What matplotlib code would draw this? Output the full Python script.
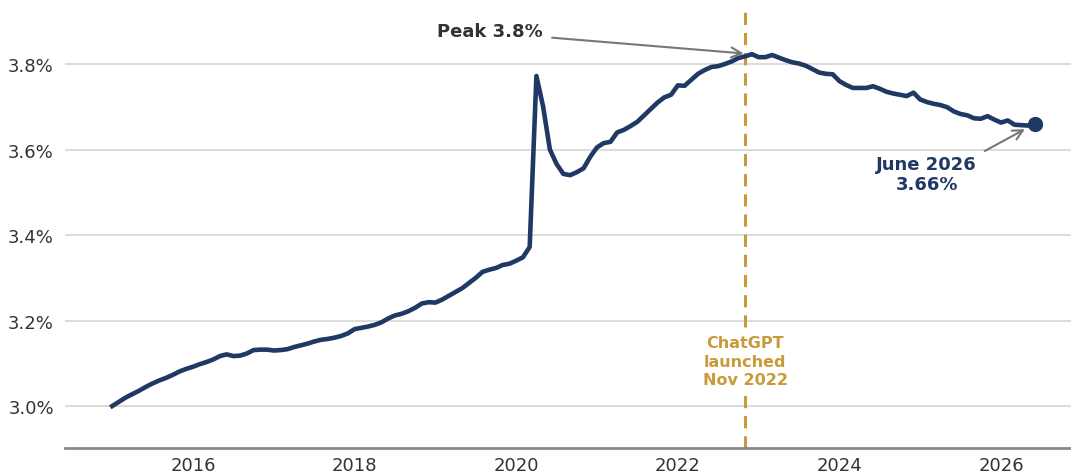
import numpy as np
import pandas as pd
import matplotlib
matplotlib.use("Agg")
import matplotlib.pyplot as plt

# Monthly series, January 2015 through June 2026 (percent)
start_month = "2015-01"
values_2015 = [3.000, 3.010, 3.020, 3.028, 3.036, 3.045, 3.053, 3.060, 3.066, 3.073, 3.081, 3.087]
values_2016 = [3.092, 3.098, 3.103, 3.109, 3.117, 3.121, 3.117, 3.118, 3.123, 3.131, 3.132, 3.132]
values_2017 = [3.130, 3.131, 3.133, 3.138, 3.142, 3.146, 3.151, 3.155, 3.157, 3.160, 3.164, 3.170]
values_2018 = [3.180, 3.183, 3.186, 3.190, 3.196, 3.205, 3.212, 3.216, 3.222, 3.230, 3.240, 3.243]
values_2019 = [3.242, 3.249, 3.258, 3.267, 3.276, 3.288, 3.300, 3.314, 3.319, 3.323, 3.330, 3.333]
values_2020 = [3.340, 3.348, 3.372, 3.772, 3.700, 3.600, 3.566, 3.543, 3.540, 3.547, 3.556, 3.583]
values_2021 = [3.605, 3.615, 3.618, 3.640, 3.646, 3.655, 3.665, 3.680, 3.695, 3.710, 3.722, 3.728]
values_2022 = [3.750, 3.749, 3.763, 3.777, 3.786, 3.793, 3.795, 3.800, 3.806, 3.814, 3.818, 3.823]
values_2023 = [3.816, 3.816, 3.821, 3.815, 3.809, 3.804, 3.801, 3.796, 3.788, 3.780, 3.777, 3.776]
values_2024 = [3.760, 3.751, 3.744, 3.744, 3.744, 3.748, 3.742, 3.735, 3.731, 3.728, 3.725, 3.733]
values_2025 = [3.717, 3.711, 3.707, 3.704, 3.699, 3.689, 3.683, 3.680, 3.673, 3.672, 3.678, 3.670]
values_2026 = [3.663, 3.668, 3.658, 3.657, 3.656, 3.66]

y_ticks = [3.0, 3.2, 3.4, 3.6, 3.8]
x_ticks = [2016, 2018, 2020, 2022, 2024, 2026]
launch_month = "2022-11"

values = np.array(values_2015 + values_2016 + values_2017 + values_2018 + values_2019 +
                  values_2020 + values_2021 + values_2022 + values_2023 + values_2024 +
                  values_2025 + values_2026)
months = pd.period_range(start_month, periods=len(values), freq="M")
t = months.year + (months.month - 1) / 12.0
launch = pd.Period(launch_month, freq="M")
launch_t = launch.year + (launch.month - 1) / 12.0

NAVY = "#1f3864"
GOLD = "#c99a3a"
TEXT = "#333333"

fig = plt.figure(figsize=(10.71, 4.77), dpi=100)
ax = fig.add_axes([0.0607, 0.0587, 0.9393, 0.9413])

for yv in y_ticks:
    ax.axhline(yv, color="#d9d9d9", lw=1.3, zorder=0)

ax.axvline(launch_t, ymax=0.982, color=GOLD, lw=2.2, ls=(0, (4, 2.6)), zorder=1)

ax.plot(t, values, color=NAVY, lw=3.3, solid_joinstyle="round", zorder=3)
ax.plot(t[-1], values[-1], "o", color=NAVY, ms=10, zorder=4)

ax.set_xlim(2014.416, 2026.866)
ax.set_ylim(2.902, 3.952)
ax.set_yticks(y_ticks)
ax.set_yticklabels([f"{v:.1f}%" for v in y_ticks])
ax.set_xticks(x_ticks)
ax.set_xticklabels([str(x) for x in x_ticks])
ax.tick_params(axis="both", length=0, labelsize=13, labelcolor=TEXT)
ax.tick_params(axis="y", pad=8)
ax.tick_params(axis="x", pad=6)

for side in ["top", "right", "left"]:
    ax.spines[side].set_visible(False)
ax.spines["bottom"].set_color("#888888")
ax.spines["bottom"].set_linewidth(2)

# Peak annotation
peak_i = int(np.argmax(values))
ax.annotate(f"Peak {values[peak_i]:.1f}%", xy=(t[peak_i], values[peak_i]),
            xytext=(2019.67, 3.876), ha="center", va="center",
            fontsize=13, fontweight="bold", color=TEXT,
            arrowprops=dict(arrowstyle="->", color="#777777", lw=1.5,
                            relpos=(1.0, 0.2), shrinkA=5, shrinkB=6,
                            mutation_scale=18))

# Latest value annotation
ax.annotate(f"June 2026\n{values[-1]:.2f}%", xy=(t[-1], values[-1]),
            xytext=(2025.08, 3.543), ha="center", va="center",
            fontsize=13, fontweight="bold", color=NAVY, linespacing=1.1,
            arrowprops=dict(arrowstyle="->", color="#777777", lw=1.5,
                            relpos=(1.0, 1.0), shrinkA=4, shrinkB=8,
                            mutation_scale=18))

ax.text(launch_t, 3.105, "ChatGPT\nlaunched\nNov 2022", ha="center", va="center",
        fontsize=11.5, fontweight="bold", color=GOLD, linespacing=1.3,
        bbox=dict(facecolor="white", edgecolor="none", pad=1.5), zorder=2)

fig.savefig("out.png", dpi=100)
